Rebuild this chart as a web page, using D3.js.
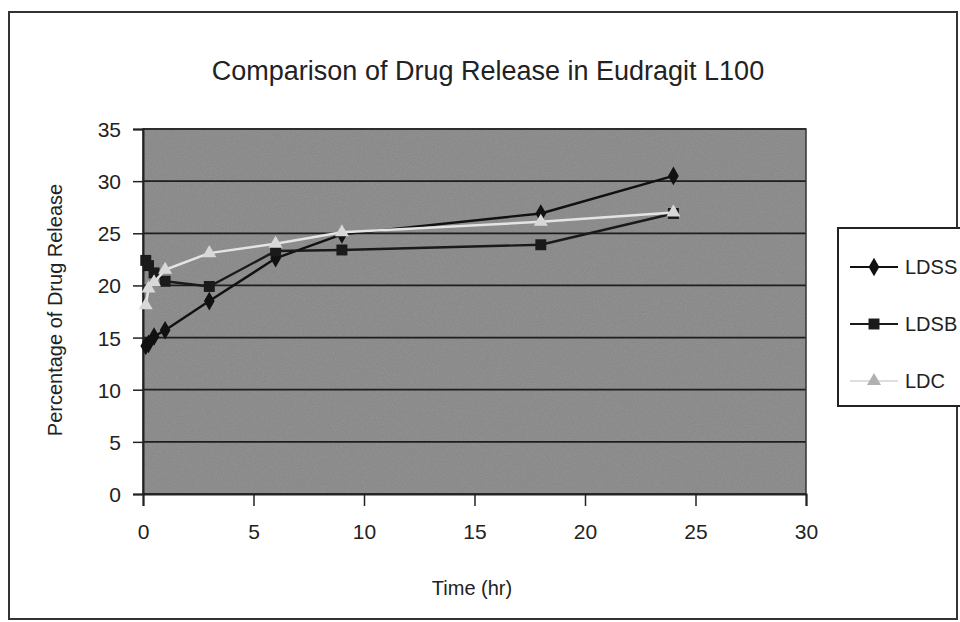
<!DOCTYPE html>
<html>
<head>
<meta charset="utf-8">
<script src="https://cdn.jsdelivr.net/npm/d3@7"></script>
<style>
  body { margin: 0; background: #fff; }
  text { font-family: "Liberation Sans", Arial, sans-serif; fill: #222; }
</style>
</head>
<body>
<script>
// time points (hr)
const times = [0.125, 0.25, 0.5, 1, 3, 6, 9, 18, 24];
const ldss = [14.2, 14.4, 15.1, 15.7, 18.5, 22.6, 24.9, 26.9, 30.5];
const ldsb = [22.4, 21.9, 21.2, 20.4, 19.9, 23.3, 23.4, 23.9, 26.9];
const ldc  = [18.1, 19.7, 20.3, 21.5, 23.1, 24.0, 25.1, 26.1, 27.0];
const xTicks = [0, 5, 10, 15, 20, 25, 30];
const yTicks = [0, 5, 10, 15, 20, 25, 30, 35];
const seriesNames = ["LDSS", "LDSB", "LDC"];

const width = 960, height = 622;
const plot = { left: 143, right: 806, top: 129, bottom: 494 };

const svg = d3.select("body").append("svg")
  .attr("width", width)
  .attr("height", height);

// noise texture for the scanned grey plot area
const defs = svg.append("defs");
const filt = defs.append("filter").attr("id", "grain")
  .attr("x", 0).attr("y", 0).attr("width", "100%").attr("height", "100%");
filt.append("feTurbulence").attr("type", "fractalNoise")
  .attr("baseFrequency", 1.1).attr("numOctaves", 2).attr("seed", 3);
filt.append("feColorMatrix").attr("type", "matrix")
  .attr("values", "0 0 0 0 0.15  0 0 0 0 0.15  0 0 0 0 0.15  0 0 0 0.45 -0.05");

const x = d3.scaleLinear().domain([0, 30]).range([plot.left, plot.right]);
const y = d3.scaleLinear().domain([0, 35]).range([plot.bottom, plot.top]);

// outer frame
svg.append("rect")
  .attr("x", 9).attr("y", 12).attr("width", 948).attr("height", 607)
  .attr("fill", "none").attr("stroke", "#333").attr("stroke-width", 2);

// title
svg.append("text")
  .attr("x", 488).attr("y", 80)
  .attr("text-anchor", "middle")
  .attr("font-size", 27)
  .text("Comparison of Drug Release in Eudragit L100");

// plot background
svg.append("rect")
  .attr("x", plot.left).attr("y", plot.top)
  .attr("width", plot.right - plot.left).attr("height", plot.bottom - plot.top)
  .attr("fill", "#939393");
svg.append("rect")
  .attr("x", plot.left).attr("y", plot.top)
  .attr("width", plot.right - plot.left).attr("height", plot.bottom - plot.top)
  .attr("filter", "url(#grain)");

// gridlines
svg.append("g")
  .selectAll("line")
  .data(yTicks)
  .enter().append("line")
  .attr("x1", plot.left).attr("x2", plot.right)
  .attr("y1", d => y(d)).attr("y2", d => y(d))
  .attr("stroke", "#1e1e1e").attr("stroke-width", 1.8);

svg.append("rect")
  .attr("x", plot.left).attr("y", plot.top)
  .attr("width", plot.right - plot.left).attr("height", plot.bottom - plot.top)
  .attr("fill", "none").attr("stroke", "#333").attr("stroke-width", 1.5);

// axes
const yAxis = svg.append("g")
  .attr("transform", `translate(${plot.left},0)`)
  .call(d3.axisLeft(y).tickValues(yTicks).tickSize(10).tickPadding(12));
yAxis.select(".domain").attr("stroke", "#222").attr("stroke-width", 2);
yAxis.selectAll(".tick line").attr("stroke", "#222").attr("stroke-width", 1.5);
yAxis.selectAll(".tick text").attr("font-size", 21).attr("dy", "0.36em")
  .attr("font-family", "Liberation Sans, Arial, sans-serif").attr("fill", "#222");

const xAxis = svg.append("g")
  .attr("transform", `translate(0,${plot.bottom})`)
  .call(d3.axisBottom(x).tickValues(xTicks).tickSize(12).tickPadding(18));
xAxis.select(".domain").attr("stroke", "#222").attr("stroke-width", 2);
xAxis.selectAll(".tick line").attr("stroke", "#222").attr("stroke-width", 1.5);
xAxis.selectAll(".tick text").attr("font-size", 21)
  .attr("font-family", "Liberation Sans, Arial, sans-serif").attr("fill", "#222");

// axis titles
svg.append("text")
  .attr("x", 472).attr("y", 595)
  .attr("text-anchor", "middle")
  .attr("font-size", 20)
  .text("Time (hr)");

svg.append("text")
  .attr("transform", "translate(62,310) rotate(-90)")
  .attr("text-anchor", "middle")
  .attr("font-size", 20)
  .text("Percentage of Drug Release");

// series
const series = [
  { name: seriesNames[0], values: ldss, color: "#111", width: 2.4, symbol: d3.symbolDiamond, size: 100, fill: "#111" },
  { name: seriesNames[1], values: ldsb, color: "#1a1a1a", width: 2.4, symbol: d3.symbolSquare, size: 120, fill: "#1a1a1a" },
  { name: seriesNames[2], values: ldc, color: "#e4e4e4", width: 2.5, symbol: d3.symbolTriangle, size: 85, fill: "#d8d8d8" }
];

const line = d3.line().x((d, i) => x(times[i])).y(d => y(d));

const sg = svg.append("g").selectAll("g")
  .data(series)
  .enter().append("g");

sg.append("path")
  .attr("d", d => line(d.values))
  .attr("fill", "none")
  .attr("stroke", d => d.color)
  .attr("stroke-width", d => d.width);

sg.each(function(s) {
  d3.select(this).selectAll(".pt")
    .data(s.values)
    .enter().append("path")
    .attr("class", "pt")
    .attr("transform", (d, i) => `translate(${x(times[i])},${y(d)})`)
    .attr("d", d3.symbol().type(s.symbol).size(s.size))
    .attr("fill", s.fill);
});

// legend
const lg = svg.append("g");
lg.append("rect")
  .attr("x", 838).attr("y", 228).attr("width", 140).attr("height", 178)
  .attr("fill", "#fff").attr("stroke", "#222").attr("stroke-width", 2);

const legendY = d3.scalePoint().domain(seriesNames).range([267, 381]);

const li = lg.selectAll(".li")
  .data(series)
  .enter().append("g")
  .attr("transform", d => `translate(0,${legendY(d.name)})`);

li.append("line")
  .attr("x1", 850).attr("x2", 898)
  .attr("stroke", (d, i) => i === 2 ? "#bdbdbd" : d.color)
  .attr("stroke-width", (d, i) => i === 2 ? 1 : 2.2);
li.append("path")
  .attr("transform", "translate(874,0)")
  .attr("d", d => d3.symbol().type(d.symbol).size(d.size)())
  .attr("fill", (d, i) => i === 2 ? "#b0b0b0" : d.fill);
li.append("text")
  .attr("x", 905).attr("dy", "0.36em")
  .attr("font-size", 20)
  .text(d => d.name);
</script>
</body>
</html>
